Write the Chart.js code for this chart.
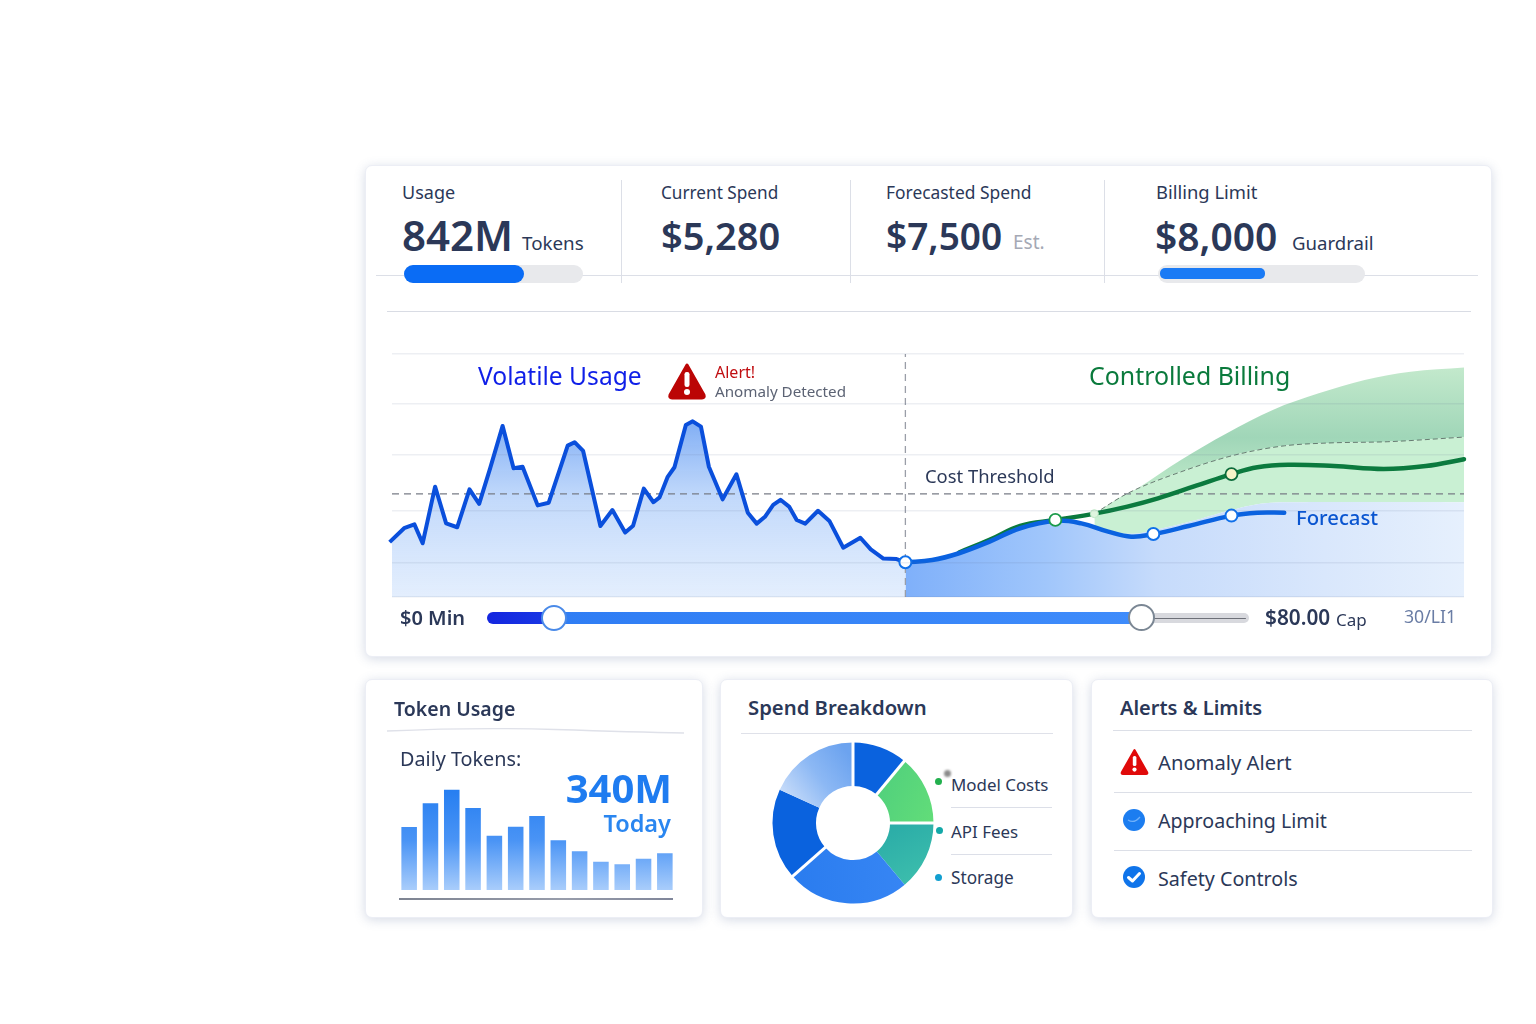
<!DOCTYPE html>
<html><head><meta charset="utf-8">
<script src="https://cdn.jsdelivr.net/npm/chart.js@4"></script>
<style>
html,body{margin:0;padding:0;background:#fff;}
#page{position:relative;width:1536px;height:1024px;overflow:hidden;font-family:"Noto Sans",sans-serif;background:#fff;}
.card{position:absolute;box-sizing:border-box;background:#fff;border:1px solid #eceef5;border-radius:7px;box-shadow:0 2px 11px rgba(70,90,140,.22);}
.t{position:absolute;white-space:nowrap;}
.r{position:absolute;}
canvas{position:absolute;display:block;}
svg{position:absolute;}
</style></head><body><div id="page">
<div class="card" style="left:365px;top:165px;width:1127px;height:492px"></div>
<div class="card" style="left:365px;top:679px;width:338px;height:239px"></div>
<div class="card" style="left:720px;top:679px;width:353px;height:239px"></div>
<div class="card" style="left:1091px;top:679px;width:402px;height:239px"></div>
<div id="rules"></div>
<svg style="left:385px;top:725px" width="302" height="12" viewBox="0 0 302 12"><path d="M2 6 Q90 2 170 4.5 T299 8" stroke="#dfe1e9" stroke-width="1.3" fill="none"/></svg>
<canvas id="main" width="1120" height="270" style="left:372px;top:344px"></canvas>
<div class="r" style="left:399px;top:898px;width:274px;height:2px;background:linear-gradient(90deg,#7e8492,#989dab 60%,#80869a)"></div>
<canvas id="bars" width="280" height="114" style="left:397px;top:777px"></canvas>
<canvas id="donut" width="180" height="180" style="left:763px;top:733px"></canvas>
<div id="texts"></div>
<svg style="left:667px;top:362px" width="40" height="38" viewBox="0 0 40 38"><path d="M20 3 L37 33 Q38 36 35 36 L5 36 Q2 36 3 33 Z" fill="#bb0505" stroke="#bb0505" stroke-width="3" stroke-linejoin="round"/><rect x="17.5" y="10" width="5" height="15" rx="2.2" fill="#fff"/><circle cx="20" cy="30" r="3" fill="#fff"/></svg>
<svg style="left:1120px;top:748px" width="29" height="28" viewBox="0 0 29 28"><path d="M14.5 2 L27 24 Q28 26 26 26 L3 26 Q1 26 2 24 Z" fill="#e00a0a" stroke="#e00a0a" stroke-width="2" stroke-linejoin="round"/><rect x="12.8" y="8" width="3.6" height="10" rx="1.6" fill="#fff"/><circle cx="14.5" cy="21.6" r="2.1" fill="#fff"/></svg>
<svg style="left:1122px;top:808px" width="24" height="24" viewBox="0 0 24 24"><circle cx="12" cy="12" r="11" fill="#1c7df0"/><path d="M6 12 Q12 16 18 9" stroke="#6fb0fa" stroke-width="1.2" fill="none"/></svg>
<svg style="left:1122px;top:865px" width="24" height="24" viewBox="0 0 24 24"><circle cx="12" cy="12" r="11" fill="#0f74ea"/><path d="M6.5 12.5 L10.5 16 L17.5 8.5" stroke="#fff" stroke-width="3" fill="none" stroke-linecap="round" stroke-linejoin="round"/></svg>
<div class="r" style="left:944px;top:770px;width:7px;height:7px;border-radius:50%;background:#8b8b8b;filter:blur(1.2px)"></div>
</div>
<script>
// ---------- Main chart data (x: position along the period 0-100, y: cost index 0-100)
const gridValues=[0,14,35.4,58.4,79.4,100];
const thresholdValue=42.4;
const splitX=47.89;
const usageX=[-0.22,1.13,2.09,2.86,4.02,5.05,6.08,7.23,8.13,9.16,10.32,11.34,12.18,13.59,14.62,16.39,17.03,17.83,19.44,20.56,21.75,22.49,23.49,24.39,24.96,25.7,26.35,27.41,28.05,28.82,29.56,30.84,32.13,33.19,34.02,34.79,35.56,36.24,37.04,37.75,38.55,39.74,40.8,42.09,43.69,44.66,45.84,47.07,47.87];
const usageY=[22.6,28.3,29.9,22.1,45.4,30.3,28.7,44.3,38.3,53,70.4,53,53.6,37.7,38.8,62.3,63.7,60.1,29.2,35.8,26.5,29.3,44.6,39,41,49.3,53.4,70.8,72.3,70.1,53.6,40.2,50.5,34.7,30.2,33,37.9,40,37.2,31.7,30.2,35.5,31.3,20.3,24.4,19.6,15.8,15.6,14.3];
const forecastX=[47.89,50.39,52.89,55.74,58.6,61.88,64.31,66.81,68.95,71.02,74.31,78.31,80.73,83.23];
const forecastY=[14.3,15.2,18,22.8,28.3,31.4,30.3,26.9,24.8,25.9,29.2,33.5,34.7,34.7];
const billingX=[52.89,55.74,58.6,61.88,65.52,68.6,71.45,75.02,78.31,80.73,83.59,87.87,92.51,96.44,100];
const billingY=[18.3,23.5,29.3,31.7,34.3,37.2,40.6,45.8,50.6,53.4,54.4,53.9,52.7,53.9,56.7];
const blueTopX=[47.89,50.39,52.89,55.74,58.6,61.88,64.31,66.81,68.95,71.02,75.02,78.31,81.45,85,100];
const blueTopY=[14.3,15.2,18,22.8,28.3,31.4,30.3,27,26,27.5,31.7,35.8,38.6,39,39];
const upperX=[65.52,69.31,73.59,77.88,82.16,86.45,90.73,95.01,100];
const upperY=[34.3,44,56.4,67.4,77,83.8,89.3,92.7,94.4];
const midX=[65.52,68.6,73.59,78.6,83.23,87.5,92.9,100];
const midY=[34.3,42.6,51.5,58.4,62.2,63.4,63.9,65.8];
const blueMarkX=[47.89,71.02,78.31], blueMarkY=[14.3,25.9,33.5];
const greenMarkX=[61.88,65.52,78.31], greenMarkY=[31.7,34.3,50.6];
// ---------- Small charts data
const dayLabels=["D1","D2","D3","D4","D5","D6","D7","D8","D9","D10","D11","D12","D13"];
const dailyTokens=[63,86.7,100.3,82,54.3,63.3,74,49.7,38.7,28.3,25.7,31.3,36.7];
const spendLabels=["Model Costs A","Model Costs B","API Fees","Storage A","Storage B","Other"];
const spendShare=[11,14,13.9,24.6,18.3,18.2];
const spendGaps=[true,true,true,false,true,false];

const zip=(xs,ys)=>xs.map((x,i)=>({x,y:ys[i]}));
const hide={display:false};
// ---------- Static text
const ink="#2b3858";
const texts=[
["Usage",402,192,18,400,ink],["842M",402,235,42,600,ink],["Tokens",522,243,18.8,400,ink],
["Current Spend",661,192.6,17.2,400,ink],["$5,280",661,235,38,600,ink],
["Forecasted Spend",886,192.6,17.4,400,ink],["$7,500",886,235,37,600,ink],["Est.",1013,242,19,400,"#a5a9b5"],
["Billing Limit",1156,192,18.4,400,ink],["$8,000",1155,235,39,600,ink],["Guardrail",1292,243,18.6,400,ink],
["Volatile Usage",478,376,24.6,400,"#0f1fe8"],["Alert!",715,372,16,400,"#c00d10"],["Anomaly Detected",715,392,15.2,400,"#5c6374"],
["Controlled Billing",1089,375.4,24.9,400,"#0a7a3c"],["Cost Threshold",925,476.6,18.4,400,ink],["Forecast",1296,517.4,20.3,500,"#0a55d0"],
["$0 Min",400,618,20,600,ink],["$80.00",1265,617.4,20.8,600,ink],["Cap",1336,619,17,400,ink],["30/LI1",1404,617,17.7,400,"#6a7da5"],
["Token Usage",394,709,19.5,600,ink],["Daily Tokens:",400,759,19.8,400,ink],
["Spend Breakdown",748,707.5,20.3,600,ink],["Model Costs",951,785,16.9,400,ink],["API Fees",951,832,16.9,400,ink],["Storage",951,878,17.2,400,ink],
["Alerts & Limits",1120,708,20,600,ink],["Anomaly Alert",1158,762.4,20.2,400,ink],["Approaching Limit",1158,821,19.6,400,ink],["Safety Controls",1158,878.6,19.7,400,ink]
];
const host=document.getElementById("texts");
texts.forEach(([s,x,c,z,w,col])=>{const e=document.createElement("div");e.className="t";e.textContent=s;
 e.style.cssText=`left:${x}px;top:${c-z/2}px;font-size:${z}px;line-height:${z}px;font-weight:${w};color:${col}`;host.appendChild(e);});
[["340M",672,788,40,700,"#1f7cf0"],["Today",671,824,23.5,600,"#2a86f0"]].forEach(([s,x,c,z,w,col])=>{const e=document.createElement("div");e.className="t";e.textContent=s;
 e.style.cssText=`right:${1536-x}px;top:${c-z/2}px;font-size:${z}px;line-height:${z}px;font-weight:${w};color:${col}`;host.appendChild(e);});
// ---------- Rules, progress bars, slider, legend dots
const rules=[
[376,275,1102,1,"#dcdfe7"],[387,311,1084,1,"#d9dce4"],[621,180,1,103,"#dcdfe7"],[850,180,1,103,"#dcdfe7"],[1104,180,1,103,"#dcdfe7"],
[741,733,312,1,"#dfe1e9"],[951,807,101,1,"#dcdfe8"],[951,854,101,1,"#dcdfe8"],
[1113,730,359,1,"#dcdfe7"],[1114,792,358,1,"#dcdfe7"],[1114,850,358,1,"#dcdfe7"],
[404,265,179,18,"#e8e9ec",9],[404,265,120,18,"#0a6cf5",9],[1158,265,207,18,"#e8e9ec",9],[1160,268,105,11,"#1b7bf5",5],
[487,612,80,12,"linear-gradient(90deg,#1426df,#1a3ce6)",6],[560,612,585,12,"linear-gradient(90deg,#2f7df4,#3f8cfb)",0],
[1141,613,108,10,"#d8d9de",5],[1150,617.5,96,1.5,"#6d7078",1],
[541,605,26,26,"#fff",13,"2.5px solid #4a8ae8"],[1128,604,27,27,"#fff",14,"2.5px solid #7b8794"],
[934.5,778,7,7,"#22b04e",4],[936,827,7,7,"#13a8a8",4],[934.5,874,7,7,"#129fd0",4]
];
const rh=document.getElementById("rules");
rules.forEach(([x,y,w,h,bg,rad,bd])=>{const e=document.createElement("div");e.className="r";
 e.style.cssText=`left:${x}px;top:${y}px;width:${w}px;height:${h}px;background:${bg};border-radius:${rad||0}px;box-sizing:border-box;${bd?`border:${bd};`:""}`;rh.appendChild(e);});

// ---------- Main chart
const leftGrad=c=>{const a=c.chart.chartArea;if(!a)return "#bcd6fa";const g=c.chart.ctx.createLinearGradient(0,a.top+65,0,a.bottom);
 g.addColorStop(0,"rgba(76,140,240,.72)");g.addColorStop(.45,"rgba(110,165,245,.42)");g.addColorStop(1,"rgba(140,185,248,.24)");return g;};
const rightGrad=c=>{const a=c.chart.chartArea;if(!a)return "#a5c9fb";const w=a.right-a.left;const g=c.chart.ctx.createLinearGradient(a.left+.479*w,0,a.right,0);
 g.addColorStop(0,"#7fb0fa");g.addColorStop(.25,"#a0c6fb");g.addColorStop(.45,"#c6dbfb");g.addColorStop(.75,"#d9e7fc");g.addColorStop(1,"#e6f0fd");return g;};
const bandGrad=c=>{const a=c.chart.chartArea;if(!a)return "#a8dabb";const g=c.chart.ctx.createLinearGradient(0,a.top+14,0,a.top+130);
 g.addColorStop(0,"#c3e9cc");g.addColorStop(.6,"#a0d6b8");g.addColorStop(1,"#bce8c8");return g;};
const base={pointRadius:0,pointHoverRadius:0,borderWidth:0,fill:false};
const smooth={cubicInterpolationMode:"monotone"};
new Chart(document.getElementById("main"),{type:"line",data:{datasets:[
 {...base,...smooth,label:"Upper range",data:zip(upperX,upperY),fill:1,backgroundColor:bandGrad,order:20},
 {...base,...smooth,label:"Mid range",data:zip(midX,midY),fill:2,backgroundColor:"#c9f0d3",borderWidth:1,borderColor:"rgba(70,85,80,.75)",borderDash:[5,3],order:19},
 {...base,label:"Forecast fill",data:zip(blueTopX,blueTopY),fill:"origin",backgroundColor:rightGrad,tension:.4,order:18},
 {...base,label:"Usage fill",data:zip(usageX,usageY),fill:"origin",backgroundColor:leftGrad,tension:0,order:17},
 {...base,label:"Cost threshold",data:[{x:0,y:thresholdValue},{x:100,y:thresholdValue}],borderWidth:1.3,borderColor:"#787c86",borderDash:[7,5],order:12},
 {...base,label:"Split",data:[{x:splitX,y:0},{x:splitX,y:100}],borderWidth:1.3,borderColor:"#9a9ea8",borderDash:[7,5],order:11},
 {...base,label:"Billing",data:zip(billingX,billingY),borderWidth:4.5,borderColor:"#0b7a3e",tension:.4,borderCapStyle:"round",clip:false,order:9},
 {...base,label:"Forecast",data:zip(forecastX,forecastY),borderWidth:4.5,borderColor:"#0a62e0",tension:.4,borderCapStyle:"round",clip:false,order:8},
 {...base,label:"Usage",data:zip(usageX,usageY),borderWidth:4,borderColor:"#0a4fdc",tension:0,borderJoinStyle:"round",clip:false,order:7},
 {...base,label:"Billing markers",data:zip(greenMarkX,greenMarkY),showLine:false,pointRadius:[6,4,6],pointBackgroundColor:["#fff","#dff5df","#f6f3c8"],pointBorderColor:["#1a9a4a","#bfe8c6","#0b6a3a"],pointBorderWidth:[1.8,1,1.8],clip:false,order:2},
 {...base,label:"Forecast markers",data:zip(blueMarkX,blueMarkY),showLine:false,pointRadius:[6,6,6],pointBackgroundColor:"#fff",pointBorderColor:"#1070ea",pointBorderWidth:2,clip:false,order:1}
]},options:{responsive:false,animation:false,events:[],layout:{padding:{left:20,right:28,top:10,bottom:17}},
 plugins:{legend:hide,tooltip:{enabled:false}},
 scales:{x:{type:"linear",min:0,max:100,ticks:{display:false},grid:{display:false,drawTicks:false},border:{display:false}},
  y:{min:0,max:100,afterBuildTicks:s=>{s.ticks=gridValues.map(v=>({value:v}));},ticks:{display:false},grid:{color:"rgba(90,105,150,.11)",lineWidth:1.5,drawTicks:false,z:1},border:{display:false}}}}});

// ---------- Daily tokens bars
new Chart(document.getElementById("bars"),{type:"bar",data:{labels:dayLabels,datasets:[{data:dailyTokens,
 backgroundColor:c=>{const a=c.chart.chartArea;if(!a)return "#4a94f5";const g=c.chart.ctx.createLinearGradient(0,a.top,0,a.bottom);g.addColorStop(0,"#1f7af0");g.addColorStop(.55,"#4a94f5");g.addColorStop(1,"#a9cdfb");return g;},
 barPercentage:.73,categoryPercentage:1}]},
 options:{responsive:false,animation:false,events:[],layout:{padding:{left:1.5,right:1.5,top:3,bottom:1}},plugins:{legend:hide,tooltip:{enabled:false}},
 scales:{x:{ticks:{display:false},grid:{display:false,drawTicks:false},border:{display:false}},y:{min:0,max:110,ticks:{display:false},grid:{display:false,drawTicks:false},border:{display:false}}}}});

// ---------- Spend donut
const sliceFill=[
 ()=>"#0a62de",
 (ctx)=>{const g=ctx.createLinearGradient(60,40,170,90);g.addColorStop(0,"#43c67f");g.addColorStop(1,"#62dd79");return g;},
 (ctx)=>{const g=ctx.createLinearGradient(90,90,130,170);g.addColorStop(0,"#25a7a6");g.addColorStop(1,"#3fc0ad");return g;},
 (ctx)=>{const g=ctx.createLinearGradient(30,150,170,130);g.addColorStop(0,"#2a7cef");g.addColorStop(1,"#3a88f5");return g;},
 ()=>"#0a62de",
 (ctx)=>{const g=ctx.createLinearGradient(25,65,85,20);g.addColorStop(0,"#c4daf9");g.addColorStop(.5,"#8cb8f4");g.addColorStop(1,"#6ca3ef");return g;}
];
const separators={id:"separators",afterDatasetDraw(chart){const ctx=chart.ctx;chart.getDatasetMeta(0).data.forEach((arc,i)=>{if(!spendGaps[i])return;
 const {x,y,startAngle,outerRadius,innerRadius}=arc.getProps(["x","y","startAngle","outerRadius","innerRadius"],true);
 ctx.save();ctx.strokeStyle="#fff";ctx.lineWidth=3;ctx.beginPath();
 ctx.moveTo(x+Math.cos(startAngle)*(innerRadius-1),y+Math.sin(startAngle)*(innerRadius-1));
 ctx.lineTo(x+Math.cos(startAngle)*(outerRadius+2),y+Math.sin(startAngle)*(outerRadius+2));ctx.stroke();ctx.restore();});}};
new Chart(document.getElementById("donut"),{type:"doughnut",plugins:[separators],data:{labels:spendLabels,datasets:[{data:spendShare,
 backgroundColor:c=>sliceFill[c.dataIndex](c.chart.ctx),borderWidth:0}]},
 options:{responsive:false,animation:false,events:[],radius:80.5,cutout:"46%",plugins:{legend:hide,tooltip:{enabled:false}}}});
</script></body></html>
